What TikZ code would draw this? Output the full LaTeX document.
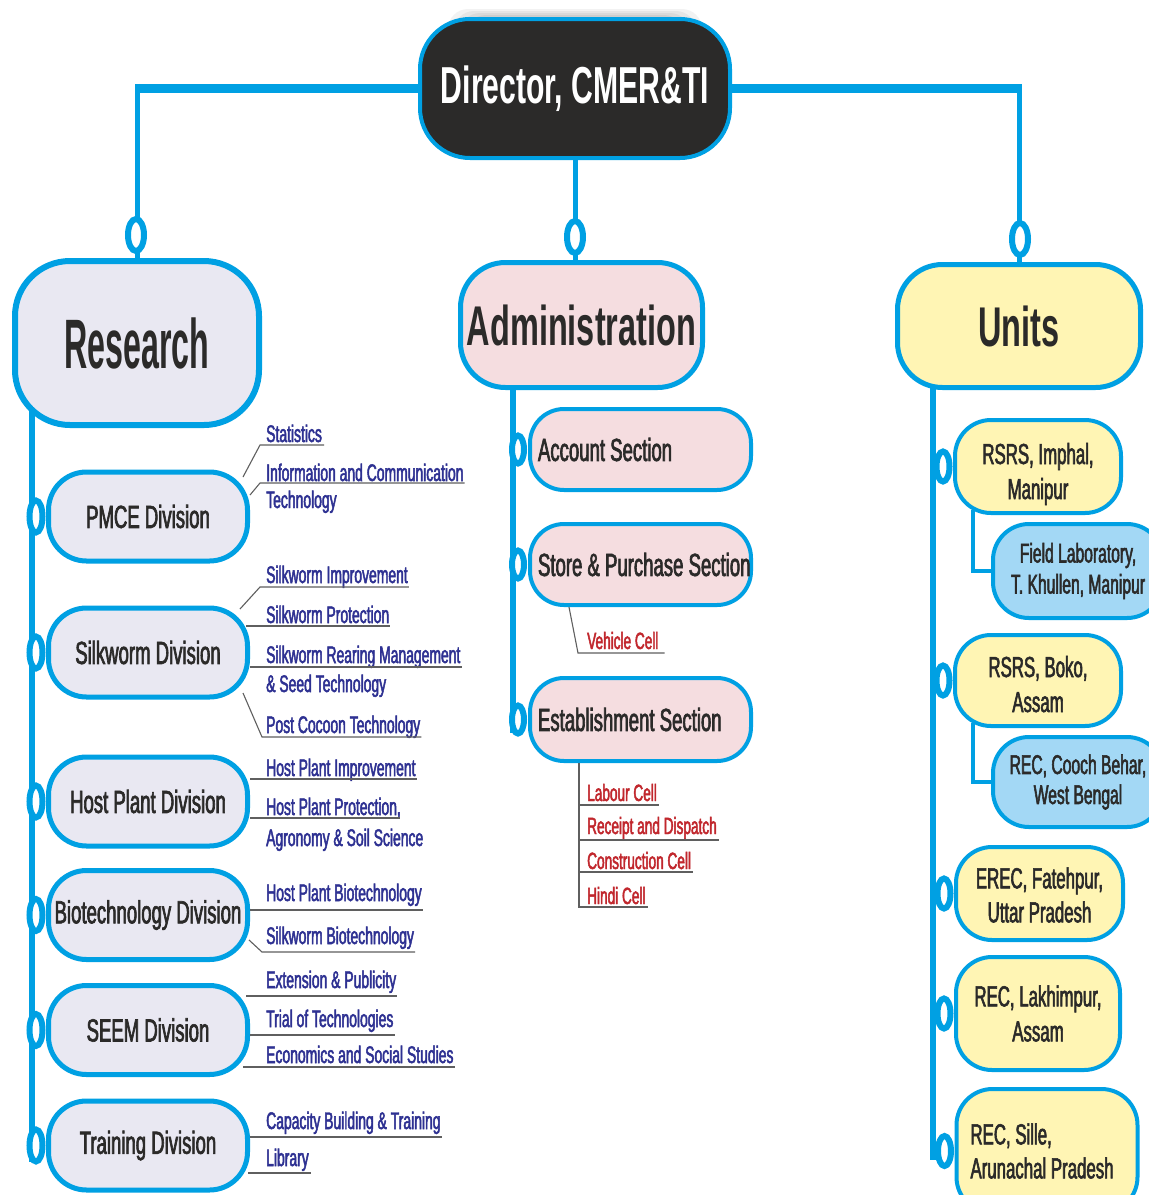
\documentclass[tikz,border=0pt]{standalone}
\usepackage{fontspec}
\setmainfont[FakeStretch=0.58,FakeBold=2]{Liberation Sans}
\newfontfamily\resfont[FakeStretch=0.46]{Liberation Sans}
\newfontfamily\headfont[FakeStretch=0.58]{Liberation Sans}
\usetikzlibrary{calc}
\definecolor{cblue}{RGB}{0,160,227}
\definecolor{lav}{RGB}{233,232,242}
\definecolor{pinkf}{RGB}{245,221,224}
\definecolor{yel}{RGB}{255,245,180}
\definecolor{lblue}{RGB}{163,216,245}
\definecolor{dark}{RGB}{43,42,41}
\definecolor{linkc}{RGB}{46,49,146}
\definecolor{redc}{RGB}{193,39,45}
\definecolor{ulgray}{RGB}{95,95,95}
\pgfdeclarelayer{bg}
\pgfsetlayers{bg,main}
\newcommand{\dn}[2]{\raisebox{-#1pt}[\height][\depth]{\begin{tabular}{@{}c@{}}#2\end{tabular}}}
\begin{document}
\begin{tikzpicture}[x=1pt,y=-1pt,
  hl/.style={draw=cblue, line width=9.5pt},
  vl/.style={draw=cblue, line width=5pt},
  trunk/.style={draw=cblue, line width=6pt},
  subl/.style={draw=cblue, line width=3.5pt},
  ring/.style={draw=cblue, line width=6pt, fill=white},
  ul/.style={draw=ulgray, line width=1.1pt},
  shade/.style={fill=black, opacity=0.05, rounded corners=20pt},
  lk/.style={anchor=base west, inner sep=0pt, text=linkc, font=\fontsize{24}{27}\selectfont},
  rcell/.style={anchor=base west, inner sep=0pt, text=redc, font=\fontsize{23.5}{27}\selectfont},
  divbox/.style={draw=cblue, line width=5pt, fill=lav, rounded corners=38pt, minimum width=199pt, minimum height=89pt, inner sep=0pt, text=dark, font=\fontsize{32}{36}\selectfont},
  secbox/.style={draw=cblue, line width=4pt, fill=pinkf, rounded corners=34pt, minimum width=221pt, minimum height=81pt, inner xsep=8pt, inner ysep=0pt, text width=205pt, align=flush left, text=dark, font=\fontsize{32}{36}\selectfont},
  unitbox/.style={draw=cblue, line width=4pt, fill=yel, rounded corners=36pt, minimum width=166pt, inner sep=0pt, align=center, text=dark, font=\fontsize{29}{35}\selectfont},
  subbox/.style={draw=cblue, line width=4pt, fill=lblue, rounded corners=36pt, minimum width=170pt, inner sep=0pt, align=center, text=dark, font=\fontsize{27}{31}\selectfont},
  headbox/.style={draw=cblue, line width=5pt, rounded corners=45pt, inner sep=0pt, text=dark, font=\fontsize{56}{60}\headfont\bfseries}
]
\useasboundingbox (0,0) rectangle (1149,1195);
\begin{pgfonlayer}{bg}
\fill[white] (0,0) rectangle (1149,1195);
\end{pgfonlayer}

% ---------- top level ----------
\node[headbox, fill=dark, line width=4pt, rounded corners=50pt, minimum width=310pt, minimum height=139pt, text=white, font=\fontsize{52}{56}\headfont\bfseries] (dir) at (575,88.5) {Director, CMER\&TI};
\node[headbox, fill=lav, line width=6pt, rounded corners=55pt, minimum width=244pt, minimum height=164pt, font=\fontsize{70}{74}\resfont\bfseries] (res) at (137,343) {Research};
\node[headbox, fill=pinkf, minimum width=242pt, minimum height=125pt] (adm) at (581.5,325) {Administration};
\node[headbox, fill=yel, minimum width=243pt, minimum height=123pt] (uni) at (1019,326) {Units};

% ---------- research divisions ----------
\node[divbox] (pmce) at (148,516.5) {PMCE Division};
\node[divbox] (silk) at (148,652.5) {Silkworm Division};
\node[divbox] (host) at (148,801.5) {Host Plant Division};
\node[divbox] (bio)  at (148,915) {Biotechnology Division};
\node[divbox] (seem) at (148,1030) {SEEM Division};
\node[divbox] (trn)  at (148,1145.5) {Training Division};

% ---------- administration sections ----------
\node[secbox] (acc) at (640.5,449.5) {\mbox{Account Section}};
\node[secbox] (sto) at (640.5,564.5) {\mbox{Store \& Purchase Section}};
\node[secbox, minimum height=83pt] (est) at (640.5,719.5) {\mbox{Establishment Section}};

% ---------- units ----------
\node[unitbox, minimum height=93pt] (imph) at (1038,466.5) {\dn{8}{RSRS, Imphal,\\Manipur}};
\node[subbox, minimum height=94pt] (fld) at (1078,571) {Field Laboratory,\\T. Khullen, Manipur};
\node[unitbox, minimum height=91pt] (boko) at (1038,680.5) {\dn{7}{RSRS, Boko,\\Assam}};
\node[subbox, minimum height=90pt, font=\fontsize{27}{30}\selectfont] (cooch) at (1078,782) {REC, Cooch Behar,\\West Bengal};
\node[unitbox, minimum width=167pt, minimum height=93pt, font=\fontsize{29}{34}\selectfont] (erec) at (1039.5,893.5) {\dn{5}{EREC, Fatehpur,\\Uttar Pradesh}};
\node[unitbox, minimum width=164pt, minimum height=113pt] (lakh) at (1038,1013.5) {REC, Lakhimpur,\\Assam};
\node[unitbox, minimum width=181pt, minimum height=124pt, inner xsep=14pt, text width=153pt, align=flush left, font=\fontsize{29}{34}\selectfont] (sil) at (1047,1151) {REC, Sille,\\\mbox{Arunachal Pradesh}};

% ---------- links (research) ----------
\node[lk] (l1) at (266,442) {Statistics};
\node[lk] (l2) at (266,481) {\begin{tabular}[t]{@{}l@{}}Information and Communication\\Technology\end{tabular}};
\node[lk] (l3) at (266,583) {Silkworm Improvement};
\node[lk] (l4) at (266,623) {Silkworm Protection};
\node[lk] (l5) at (266,663) {\begin{tabular}[t]{@{}l@{}}Silkworm Rearing Management\\[2pt]\& Seed Technology\end{tabular}};
\node[lk] (l6) at (266,733) {Post Cocoon Technology};
\node[lk] (l7) at (266,776) {Host Plant Improvement};
\node[lk] (l8) at (266,815) {\begin{tabular}[t]{@{}l@{}}Host Plant Protection,\\[4pt]Agronomy \& Soil Science\end{tabular}};
\node[lk] (l9) at (266,901) {Host Plant Biotechnology};
\node[lk] (l10) at (266,944) {Silkworm Biotechnology};
\node[lk] (l11) at (266,988) {Extension \& Publicity};
\node[lk] (l12) at (266,1027) {Trial of Technologies};
\node[lk] (l13) at (266,1063) {Economics and Social Studies};
\node[lk] (l14) at (266,1129) {Capacity Building \& Training};
\node[lk] (l15) at (266,1166) {Library};

% ---------- cells (administration) ----------
\node[rcell] (vc) at (587,649) {Vehicle Cell};
\node[rcell] (c1) at (587,801) {Labour Cell};
\node[rcell] (c2) at (587,834) {Receipt and Dispatch};
\node[rcell] (c3) at (587,869) {Construction Cell};
\node[rcell] (c4) at (587,904) {Hindi Cell};

\coordinate (rbot) at (32,1162);
\coordinate (abot) at (513,733);
\coordinate (ubot) at (933,1160);

\begin{pgfonlayer}{bg}
  % soft shadow above the director box
  \foreach \k in {0,1,2,3}
    \fill[shade] ($(dir.north west)+(30+6*\k,-8+2*\k)$) rectangle ($(dir.north east)+(-30-6*\k,30)$);
  % director connectors
  \draw[hl] (dir.west) -- ($(dir.west -| res.north)+(-2.5,0)$);
  \draw[vl] ($(dir.west -| res.north)+(0,-4.75)$) -- (res.north);
  \draw[vl] (dir.south) -- (dir.south |- adm.north);
  \draw[hl] (dir.east) -- ($(dir.east -| uni.north)+(2.5,0)$);
  \draw[vl] ($(dir.east -| uni.north)+(0,-4.75)$) -- (uni.north);
  % trunks
  \draw[trunk] ($(res.south west)+(20,-20)$) -- (rbot);
  \draw[trunk] ($(adm.south west)+(55,-20)$) -- (abot);
  \draw[trunk] ($(uni.south west)+(38,-20)$) -- (ubot);
  % sub units
  \draw[subl] ($(imph.south west)+(20,-5)$) |- (fld.west);
  \draw[subl] ($(boko.south west)+(20,-5)$) |- (cooch.west);
\end{pgfonlayer}

% rings
\draw[ring] ($(res.north)+(-1,-23)$) ellipse [x radius=8pt, y radius=16pt];
\draw[ring] ($(dir.south |- adm.north)+(0,-23)$) ellipse [x radius=8pt, y radius=16pt];
\draw[ring] ($(uni.north)+(1,-23)$) ellipse [x radius=8pt, y radius=16pt];
\foreach \n in {pmce,silk,host,bio,seem,trn}
  \draw[ring] ($(\n.west)+(-10,0)$) ellipse [x radius=6.5pt, y radius=16pt];
\foreach \n in {acc,sto,est}
  \draw[ring] ($(\n.west)+(-10,0)$) ellipse [x radius=6pt, y radius=14pt];
\foreach \n in {imph,boko,erec,lakh,sil}
  \draw[ring] ($(\n.west)+(-10,0)$) ellipse [x radius=6.5pt, y radius=15pt];

% link underlines
\draw[ul] ($(pmce.east)+(-7,-39.5)$) -- ($(l1.base west)+(-6,3)$) -- ($(l1.base east)+(2,3)$);
\draw[ul] ($(pmce.east)+(0,-21.5)$) -- ($(l2.base west)+(-6,2)$) -- ($(l2.base east)+(1,2)$);
\draw[ul] ($(silk.east)+(-10,-43.5)$) -- ($(l3.base west)+(-6,4)$) -- ($(l3.base east)+(1,4)$);
\draw[ul] ($(silk.east)+(-4,-26.5)$) -- ($(l4.base east)+(1,3)$);
\draw[ul] ($(silk.east)+(0,14.5)$) -- ($(l5.base east)+(1,4)$);
\draw[ul] ($(silk.east)+(-7,40.5)$) -- ($(l6.base west)+(-4,4)$) -- ($(l6.base east)+(1,4)$);
\draw[ul] ($(host.east)+(0,-22.5)$) -- ($(l7.base east)+(1,3)$);
\draw[ul] ($(host.east)+(0,16.5)$) -- ($(l8.base west)+(134,3)$);
\draw[ul] ($(bio.east)+(0,-5)$) -- ($(l9.base east)+(1,9)$);
\draw[ul] ($(bio.east)+(-1,25)$) -- ($(l10.base west)+(-4,8)$) -- ($(l10.base east)+(1,8)$);
\draw[ul] ($(seem.east)+(-4,-34)$) -- ($(l11.base east)+(1,8)$);
\draw[ul] ($(seem.east)+(0,5)$) -- ($(l12.base east)+(1,8)$);
\draw[ul] ($(seem.east)+(-7,37)$) -- ($(l13.base east)+(1,4)$);
\draw[ul] ($(trn.east)+(0,-8.5)$) -- ($(l14.base east)+(1,8)$);
\draw[ul] ($(trn.east)+(-2,27.5)$) -- ($(l15.base east)+(2,7)$);

% cell underlines
\draw[ul] ($(sto.south west)+(41,0)$) -- ($(vc.base west)+(-9,4)$) -- ($(vc.base east)+(6,4)$);
\foreach \c/\d in {c1/4,c2/6,c3/3,c4/3}
  \draw[ul] ($(est.south west)+(51,0)$) |- ($(\c.base east)+(2,\d)$);
\end{tikzpicture}
\end{document}
